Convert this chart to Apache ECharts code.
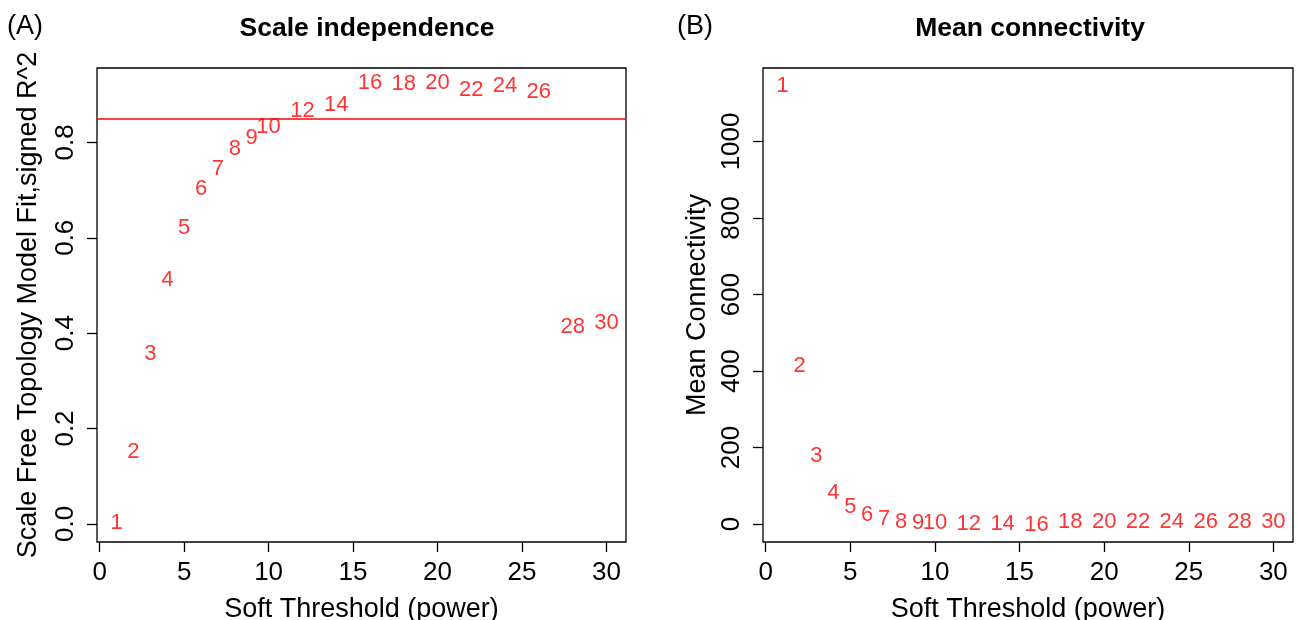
<!DOCTYPE html>
<html>
<head>
<meta charset="utf-8">
<title>Soft threshold</title>
<script src="https://cdn.jsdelivr.net/npm/echarts@6/dist/echarts.min.js"></script>
<style>
  html, body { margin: 0; padding: 0; background: #fff; }
  #chart { width: 1298px; height: 620px; }
</style>
</head>
<body>
<div id="chart"></div>
<script>
// soft threshold powers tested
const powers = [1, 2, 3, 4, 5, 6, 7, 8, 9, 10, 12, 14, 16, 18, 20, 22, 24, 26, 28, 30]
// scale free topology fit (signed R^2)
const fitR2 = [0.002, 0.151, 0.356, 0.512, 0.621, 0.702, 0.744, 0.786, 0.809, 0.832,
  0.867, 0.878, 0.925, 0.922, 0.925, 0.910, 0.918, 0.906, 0.413, 0.421]
// mean connectivity
const meanK = [1145, 413, 178, 81, 44, 24, 13, 5, 3, 3,
  0.5, -0.5, -2, 5, 5, 5, 5, 5, 5, 5]
const cutoff = 0.85
const xTicks = [0, 5, 10, 15, 20, 25, 30]
const fitTicks = [0, 0.2, 0.4, 0.6, 0.8]
const kTicks = [0, 200, 400, 600, 800, 1000]

const font = 'Liberation Sans, Arial, sans-serif'
const chart = echarts.init(document.getElementById('chart'))

// R-like axis styling: box from the grid border, ticks outside
const xAxisOf = (gridIndex) => ({
  type: 'value', gridIndex, min: -0.16, max: 31.16,
  name: 'Soft Threshold (power)', nameLocation: 'middle', nameGap: 54,
  nameTextStyle: { fontFamily: font, fontSize: 27, color: '#000' },
  axisLine: { show: false, onZero: false },
  splitLine: { show: false },
  axisTick: { show: true, inside: false, length: 10, customValues: xTicks, lineStyle: { color: '#000', width: 1.3 } },
  axisLabel: { customValues: xTicks, margin: 18, fontFamily: font, fontSize: 26, color: '#000' }
})
const yAxisOf = (gridIndex, min, max, ticks, name, gap, fmt) => ({
  type: 'value', gridIndex, min, max,
  name, nameLocation: 'middle', nameGap: gap, nameRotate: 90,
  nameTextStyle: { fontFamily: font, fontSize: 27, color: '#000' },
  axisLine: { show: false, onZero: false },
  splitLine: { show: false },
  axisTick: { show: true, inside: false, length: 10, customValues: ticks, lineStyle: { color: '#000', width: 1.3 } },
  axisLabel: { customValues: ticks, rotate: 90, margin: 18, fontFamily: font, fontSize: 26, color: '#000', formatter: fmt }
})
const labelSeries = (idx, ys) => ({
  type: 'scatter', xAxisIndex: idx, yAxisIndex: idx,
  symbol: 'circle', symbolSize: 1, silent: true,
  itemStyle: { color: 'transparent' },
  label: {
    show: true, position: 'inside', color: '#ff0000',
    fontFamily: font, fontSize: 22,
    formatter: (p) => String(p.data[0])
  },
  data: powers.map((p, i) => [p, ys[i]])
})

const s1 = labelSeries(0, fitR2)
s1.markLine = {
  silent: true, symbol: ['none', 'none'], label: { show: false },
  lineStyle: { color: '#ff0000', width: 1.5, type: 'solid' },
  data: [{ yAxis: cutoff }]
}

chart.setOption({
  backgroundColor: '#fff',
  animation: false,
  title: [
    { text: 'Scale independence', left: 367, top: 15, textAlign: 'center', padding: 0,
      textStyle: { fontFamily: font, fontSize: 26.5, fontWeight: 'bold', color: '#000' } },
    { text: 'Mean connectivity', left: 1030, top: 15, textAlign: 'center', padding: 0,
      textStyle: { fontFamily: font, fontSize: 26.5, fontWeight: 'bold', color: '#000' } },
    { text: '(A)', left: 7, top: 13, padding: 0,
      textStyle: { fontFamily: font, fontSize: 27, fontWeight: 'normal', color: '#000' } },
    { text: '(B)', left: 677, top: 13, padding: 0,
      textStyle: { fontFamily: font, fontSize: 27, fontWeight: 'normal', color: '#000' } }
  ],
  grid: [
    { left: 97, width: 529, top: 68, height: 474, outerBoundsMode: 'none', containLabel: false,
      show: true, borderColor: '#000', borderWidth: 1.3, backgroundColor: 'transparent' },
    { left: 763, width: 530, top: 68, height: 474, outerBoundsMode: 'none', containLabel: false,
      show: true, borderColor: '#000', borderWidth: 1.3, backgroundColor: 'transparent' }
  ],
  xAxis: [xAxisOf(0), xAxisOf(1)],
  yAxis: [
    yAxisOf(0, -0.038, 0.956, fitTicks, 'Scale Free Topology Model Fit,signed R^2', 55, (v) => v.toFixed(1)),
    yAxisOf(1, -47, 1192, kTicks, 'Mean Connectivity', 52, (v) => String(v))
  ],
  series: [s1, labelSeries(1, meanK)]
})
</script>
</body>
</html>
